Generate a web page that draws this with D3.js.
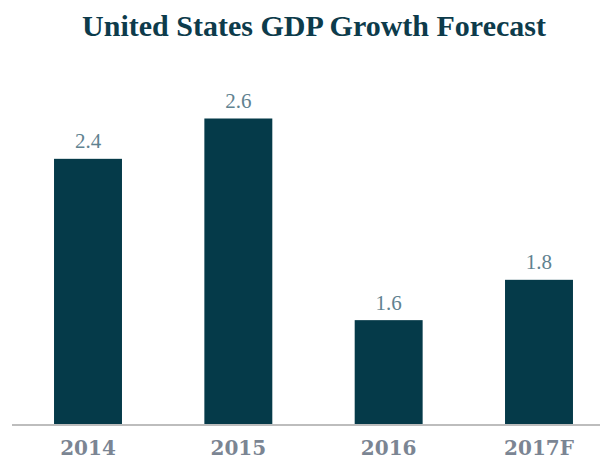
<!DOCTYPE html>
<html><head><meta charset="utf-8">
<script src="https://cdn.jsdelivr.net/npm/d3@7"></script>
<style>body{margin:0;background:#fff}svg{display:block}</style>
</head><body>
<svg id="c" width="600" height="468"></svg>
<script>
const categories = ["2014", "2015", "2016", "2017F"];
const values = [2.4, 2.6, 1.6, 1.8];
const title = "United States GDP Growth Forecast";

const svg = d3.select("#c");
const x = d3.scaleBand().domain(categories).range([19, 608]).paddingInner(0.548).paddingOuter(0.233);
const y = d3.scaleLinear().domain([1.08, 2.6]).range([425, 118.5]);
const serif = "'Liberation Serif', 'DejaVu Serif', serif";
const wideSerif = "'DejaVu Serif', 'Liberation Serif', serif";

svg.append("text").attr("x", 314).attr("y", 36).attr("text-anchor", "middle")
  .attr("font-family", serif).attr("font-weight", "bold").attr("font-size", 30)
  .attr("fill", "#0d3b4b").text(title);

svg.selectAll("rect.bar").data(values).join("rect").attr("class", "bar")
  .attr("x", (d, i) => x(categories[i])).attr("width", x.bandwidth())
  .attr("y", d => y(d)).attr("height", d => y.range()[0] - y(d))
  .attr("fill", "#053a49");

svg.selectAll("text.val").data(values).join("text").attr("class", "val")
  .attr("x", (d, i) => x(categories[i]) + x.bandwidth() / 2)
  .attr("y", d => y(d) - 10.5).attr("text-anchor", "middle")
  .attr("font-family", serif).attr("font-size", 21).attr("fill", "#5f8290")
  .text(d => d3.format(".1f")(d));

const axis = svg.append("g").attr("transform", "translate(0,425)")
  .call(d3.axisBottom(x).tickSize(0).tickPadding(16));
axis.select(".domain").attr("d", "M12,0H600").attr("stroke", "#bdbdbd").attr("stroke-width", 2);
axis.selectAll("text").attr("font-family", wideSerif).attr("font-weight", "bold")
  .attr("font-size", 20).attr("fill", "#7b8593");
</script>
</body></html>
